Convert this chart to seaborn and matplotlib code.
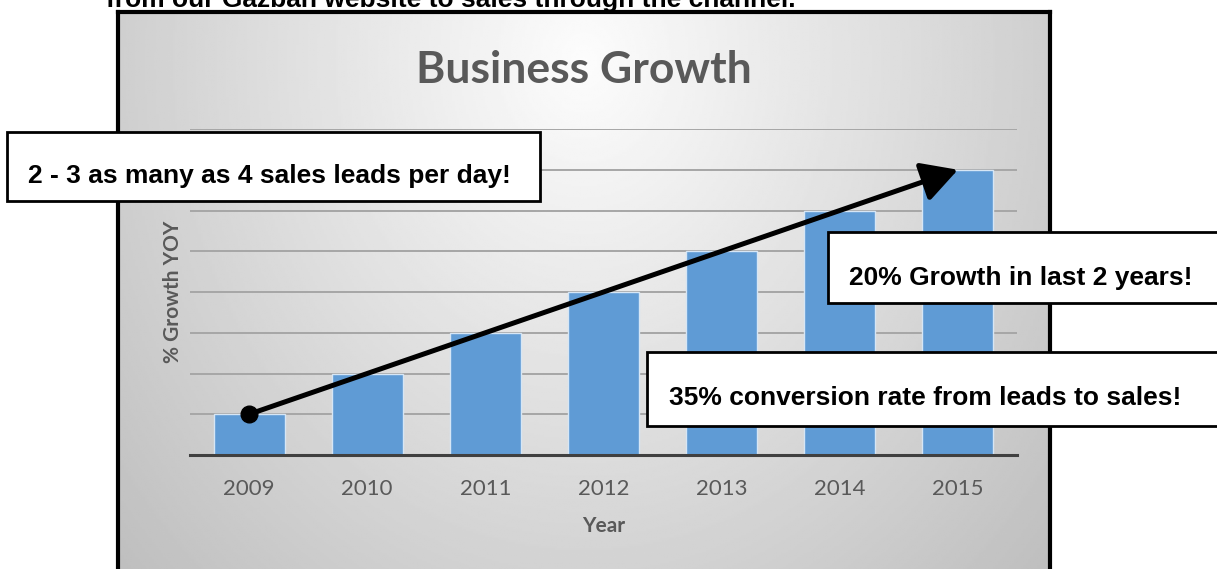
import numpy as np
import pandas as pd
import matplotlib
matplotlib.use("Agg")
import matplotlib.pyplot as plt
from matplotlib.patches import Rectangle
import seaborn as sns

# ---- data ----
years = ["2009", "2010", "2011", "2012", "2013", "2014", "2015"]
growth = [1, 2, 3, 4, 5, 6, 7]
title = "Business Growth"
x_label = "Year"
y_label = "% Growth YOY"
top_text = "from our Gazban website to sales through the channel."
callouts = [
    "2 - 3 as many as 4 sales leads per day!",
    "20% Growth in last 2 years!",
    "35% conversion rate from leads to sales!",
]

sns.set_style("white")
plt.rcParams["font.family"] = ["Lato", "DejaVu Sans"]

W, H = 1217, 569
fig = plt.figure(figsize=(W / 100, H / 100), dpi=100)
fig.patch.set_facecolor("white")


def fx(px):
    return px / W


def fy(py):
    return 1 - py / H


# chart frame background (radial gradient)
fl, fr, ft, fb = 118, 1050, 12, 575
bg_ax = fig.add_axes([fx(fl), fy(fb), fx(fr) - fx(fl), fy(ft) - fy(fb)], zorder=0)
xs = np.linspace(fl, fr, 400)
ys = np.linspace(ft, fb, 300)
XX, YY = np.meshgrid(xs, ys)
d = np.sqrt(((XX - 584) / 520) ** 2 + ((YY - 60) / 620) ** 2)
v = np.clip(0.99 - 0.2 * d, 0, 1)
bg_ax.imshow(v, cmap="gray", vmin=0, vmax=1, aspect="auto", extent=[0, 1, 0, 1])
bg_ax.set_xlim(0, 1)
bg_ax.set_ylim(0, 1)
bg_ax.set_xticks([])
bg_ax.set_yticks([])
for s in bg_ax.spines.values():
    s.set_linewidth(3.0)
    s.set_color("black")

# main axes
ax = fig.add_axes([fx(190), fy(455), fx(1017) - fx(190), fy(129) - fy(455)], zorder=2)
ax.patch.set_alpha(0)
df = pd.DataFrame({"year": years, "growth": growth})
sns.barplot(data=df, x="year", y="growth", ax=ax, color="#5f9bd5", width=0.6,
            saturation=1, edgecolor="#d6e6f5", linewidth=1.0, zorder=3)
ax.set_xlim(-0.5, len(years) - 0.5)
ax.set_ylim(0, 8)
ax.set_yticks(range(0, 9))
ax.yaxis.grid(True, color="#a6a6a6", linewidth=1.4, zorder=1)
ax.set_axisbelow(True)
ax.tick_params(axis="y", left=False, labelleft=False)
ax.tick_params(axis="x", bottom=False, labelsize=16, labelcolor="#595959", pad=14)
for s in ["top", "right", "left"]:
    ax.spines[s].set_visible(False)
ax.spines["bottom"].set_color("#404040")
ax.spines["bottom"].set_linewidth(2.2)
ax.spines["bottom"].set_zorder(4)
ax.set_xlabel(x_label, fontsize=15, fontweight="bold", color="#595959", labelpad=12)
ax.set_ylabel(y_label, fontsize=15, fontweight="bold", color="#595959", labelpad=5)

# trend arrow
ax.annotate("", xy=(len(years) - 1, growth[-1]), xytext=(0, growth[0]),
            arrowprops=dict(arrowstyle="-|>,head_length=1.0,head_width=0.55",
                            color="black", lw=3.6, mutation_scale=22,
                            shrinkA=0, shrinkB=0), zorder=6)
ax.plot([0], [growth[0]], marker="o", markersize=12, color="black", zorder=7)

# title
fig.text(fx(584), fy(70), title, ha="center", va="center", fontsize=32,
         fontweight="bold", color="#595959", zorder=5)

# top cut-off text
fig.text(fx(106), fy(7), top_text, ha="left", va="baseline", fontsize=19,
         fontweight="bold", family=["Liberation Sans"], color="black")

# callout boxes
boxes = [
    (7, 132, 540, 201, 28, 183),
    (828, 232, 1230, 303, 849, 285),
    (647, 352, 1230, 426, 669, 405),
]
for (l, t, r, b, tx, ty), txt in zip(boxes, callouts):
    rect = Rectangle((fx(l), fy(b)), fx(r) - fx(l), fy(t) - fy(b), transform=fig.transFigure,
                     facecolor="white", edgecolor="black", linewidth=2.0, zorder=10)
    fig.add_artist(rect)
    fig.text(fx(tx), fy(ty), txt, ha="left", va="baseline", fontsize=19,
             fontweight="bold", family=["Liberation Sans"], color="black", zorder=11)

fig.savefig("out.png", dpi=100)
